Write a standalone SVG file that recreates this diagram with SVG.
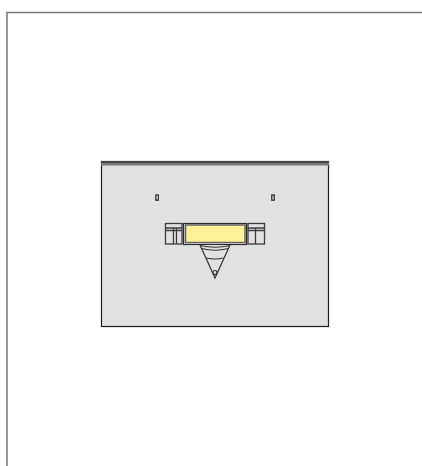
<svg xmlns="http://www.w3.org/2000/svg" width="422" height="466" viewBox="0 0 422 466">
<style>
.l{fill:none;stroke:#3c3c3c;stroke-width:1.300}
.t{fill:none;stroke:#333;stroke-width:1.200}
</style>
<rect width="422" height="466" fill="#fff"/>
<path d="M7 466V12.500H422" fill="none" stroke="#777" stroke-width="1.500"/>
<g id="room">
<rect x="101.500" y="161.500" width="227" height="165" fill="#e1e1e1" stroke="#1c1c1c" stroke-width="1.200"/>
<rect x="101" y="161" width="228" height="2" fill="#444"/>
<rect x="101" y="163" width="228" height="2.500" fill="#777"/>
</g>
<g id="post-left"><rect x="155.800" y="195" width="2.500" height="5.200" fill="#eee" stroke="#333" stroke-width="1.300"/></g>
<g id="post-right"><rect x="271.800" y="195" width="2.500" height="5.200" fill="#eee" stroke="#333" stroke-width="1.300"/></g>
<g id="left-cabinet">
<rect x="165.500" y="223.500" width="16.500" height="20.500" fill="#e1e1e1" class="l"/>
<path class="l" d="M165.500 228H182M165.500 230.500H182M173.500 228V244M176.500 228V244"/>
</g>
<g id="right-cabinet">
<rect x="248" y="223.500" width="16.500" height="20.500" fill="#e1e1e1" class="l"/>
<path class="l" d="M248 228H264.500M248 230.500H264.500M255.500 228V244"/>
</g>
<g id="counter">
<rect x="183.500" y="223.500" width="63" height="21" fill="#e8e8e8" stroke="#2c2c2c" stroke-width="1.200"/>
<rect x="185.500" y="225" width="59.500" height="17.500" fill="#fff199" stroke="#666" stroke-width="1.500"/>
</g>
<g id="cone">
<path d="M200 245L215 278L230 245" fill="#e1e1e1" stroke="#333" stroke-width="1.200"/>
<path class="t" d="M200 245.500Q215 249 230 245.500M201.500 248.500Q215 252 228.500 248.500M206.500 258Q215 260 223.500 258"/>
<circle cx="215" cy="272.500" r="2" class="t"/>
</g>
</svg>
